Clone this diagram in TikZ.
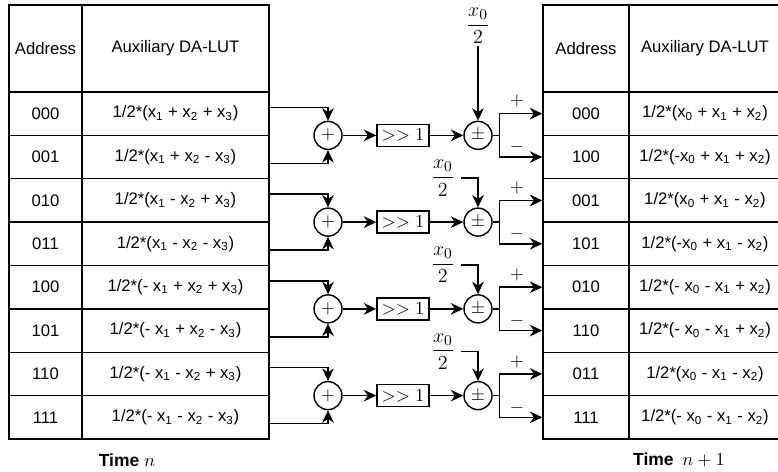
\documentclass[tikz,border=0pt]{standalone}
\usepackage{fontspec}
\newfontfamily\arial{Liberation Sans}
\usetikzlibrary{arrows.meta,calc}
\newcommand{\xsub}[1]{x\textsubscript{#1}}
\begin{document}
\begin{tikzpicture}[x=0.6pt,y=-0.6pt,
  line/.style={line width=0.85pt},
  arr/.style={line width=0.85pt,-{Stealth[length=7.5pt,width=7pt]}},
  cell/.style={draw,line width=0.85pt,inner sep=0pt,font=\arial\fontsize{10}{12}\selectfont},
  addr/.style={cell,minimum width=43.8pt,minimum height=26.025pt},
  func/.style={cell,minimum width=112.2pt,minimum height=26.025pt},
  raddr/.style={cell,minimum width=51.6pt,minimum height=26.025pt},
  rfunc/.style={cell,minimum width=91.2pt,minimum height=26.025pt},
  mfont/.style={font=\fontsize{11}{13}\selectfont},
  ffont/.style={font=\fontsize{12.5}{14}\selectfont},
  opcirc/.style={draw,circle,line width=0.85pt,minimum size=16.8pt,inner sep=0pt,mfont},
  shiftbox/.style={draw,line width=0.85pt,minimum width=31.2pt,minimum height=13.2pt,inner sep=0pt,mfont},
  sign/.style={inner sep=0pt,mfont},
  timelbl/.style={inner sep=0pt,font=\arial\fontsize{10.5}{12}\selectfont}
]
\useasboundingbox (0,0) rectangle (778,472);
% left table
\node[cell,minimum width=43.8pt,minimum height=52.2pt] (LAh) at (45.5,48.5) {Address};
\node[cell,minimum width=112.2pt,minimum height=52.2pt] (LFh) at (175.5,48.5) {Auxiliary DA-LUT};
\foreach \i/\a/\f in {1/000/{(\xsub1 + \xsub2 + \xsub3)},
                      2/001/{(\xsub1 + \xsub2 - \xsub3)},
                      3/010/{(\xsub1 - \xsub2 + \xsub3)},
                      4/011/{(\xsub1 - \xsub2 - \xsub3)},
                      5/100/{(- \xsub1 + \xsub2 + \xsub3)},
                      6/101/{(- \xsub1 + \xsub2 - \xsub3)},
                      7/110/{(- \xsub1 - \xsub2 + \xsub3)},
                      8/111/{(- \xsub1 - \xsub2 - \xsub3)}}{
  \pgfmathsetmacro\yc{92+43.375*(\i-0.5)}
  \node[addr] (LA\i) at (45.5,\yc) {\a};
  \node[func] (LF\i) at (175.5,\yc) {1/2*\f};
}
% right table
\node[cell,minimum width=51.6pt,minimum height=52.2pt] (RAh) at (586,48.5) {Address};
\node[cell,minimum width=91.2pt,minimum height=52.2pt] (RFh) at (705,48.5) {Auxiliary DA-LUT};
\foreach \i/\a/\f in {1/000/{(\xsub0 + \xsub1 + \xsub2)},
                      2/100/{(-\xsub0 + \xsub1 + \xsub2)},
                      3/001/{(\xsub0 + \xsub1 - \xsub2)},
                      4/101/{(-\xsub0 + \xsub1 - \xsub2)},
                      5/010/{(- \xsub0 - \xsub1 + \xsub2)},
                      6/110/{(- \xsub0 - \xsub1 + \xsub2)},
                      7/011/{(\xsub0 - \xsub1 - \xsub2)},
                      8/111/{(- \xsub0 - \xsub1 - \xsub2)}}{
  \pgfmathsetmacro\yc{92+43.375*(\i-0.5)}
  \node[raddr] (RA\i) at (586,\yc) {\a};
  \node[rfunc] (RF\i) at (705,\yc) {1/2*\f};
}
% processing groups
\foreach \g in {1,...,4}{
  \pgfmathsetmacro\gy{92+86.75*\g-43.375}
  \pgfmathtruncatemacro\ra{2*\g-1}
  \pgfmathtruncatemacro\rb{2*\g}
  \node[opcirc] (S\g) at (328,\gy) {$+$};
  \node[shiftbox] (D\g) at (403,\gy) {$>>1$};
  \node[opcirc] (Q\g) at (478,\gy) {$\pm$};
  \draw[arr] ($(LF\ra.east|-S\g)+(0,-28)$) -| (S\g);
  \draw[arr] ($(LF\rb.east|-S\g)+(0,28)$) -| (S\g);
  \draw[arr] (S\g) -- (D\g);
  \draw[arr] (D\g) -- (Q\g);
  \draw[line] (Q\g.east) -- ++(7,0) coordinate (B\g);
  \draw[arr] (B\g) |- (RA\ra.west);
  \draw[arr] (B\g) |- (RA\rb.west);
  \node[sign] (P\g) at (517,{\gy-34}) {$+$};
  \node[sign] (M\g) at (517,{\gy+12}) {$-$};
}
\node[ffont,inner sep=1pt] (F1) at (478,26) {$\displaystyle\frac{x_0}{2}$};
\draw[arr] (F1) -- (Q1);
\foreach \g in {2,3,4}{
  \pgfmathsetmacro\gy{92+86.75*\g-43.375}
  \node[ffont,anchor=east,inner sep=3.6pt] (F\g) at (461,{\gy-44}) {$\displaystyle\frac{x_0}{2}$};
  \draw[arr] (F\g.east) -| (Q\g);
}
% time labels
\node[timelbl] (T1) at (127,460) {\textbf{Time} $n$};
\node[timelbl] (T2) at (679,460) {\textbf{Time}\hspace{0.5em}$n+1$};
\end{tikzpicture}
\end{document}
